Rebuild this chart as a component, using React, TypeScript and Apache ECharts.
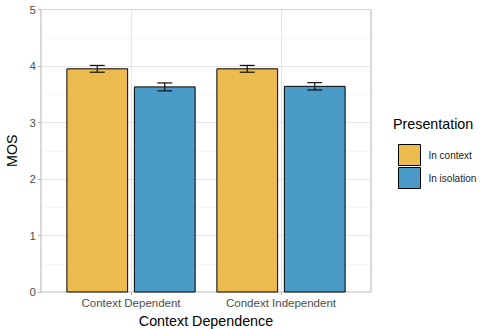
import React, { useEffect, useRef } from "react";
import * as echarts from "echarts";

const categories = ["Context Dependent", "Condext Independent"];
const seriesNames = ["In context", "In isolation"];
const inContext = [3.95, 3.95];
const inContextErr = [0.06, 0.06];
const inIsolation = [3.63, 3.64];
const inIsolationErr = [0.07, 0.065];
const yTicks = [0, 1, 2, 3, 4, 5];
const colors = ["#EBBB4E", "#4A9BC8"];

const FONT = "Liberation Sans, Arial, sans-serif";

export default function App() {
  const ref = useRef<HTMLDivElement>(null);
  useEffect(() => {
    const chart = echarts.init(ref.current!, null, { renderer: "svg" });
    const positions = categories.map((_, i) => i + 1);
    const barW = 0.405;
    const dodge = 0.225;
    const capHalf = 0.05;
    const makeSeries = (si: number, vals: number[], errs: number[]) => ({
      type: "custom",
      name: seriesNames[si],
      itemStyle: { color: colors[si], borderColor: "#000", borderWidth: 1 },
      data: positions.map((p, i) => [p, vals[i], errs[i]]),
      encode: { x: 0, y: 1 },
      renderItem: (params: any, api: any) => {
        const x = api.value(0) + (si === 0 ? -dodge : dodge);
        const v = api.value(1);
        const e = api.value(2);
        const p0 = api.coord([x - barW / 2, v]);
        const p1 = api.coord([x + barW / 2, 0]);
        const t = api.coord([x, v + e]);
        const b = api.coord([x, v - e]);
        const cl = api.coord([x - capHalf, v])[0];
        const cr = api.coord([x + capHalf, v])[0];
        const ls = { stroke: "#111", lineWidth: 1.2 };
        return {
          type: "group",
          children: [
            {
              type: "rect",
              shape: { x: p0[0], y: p0[1], width: p1[0] - p0[0], height: p1[1] - p0[1] },
              style: { fill: colors[si], stroke: "#000", lineWidth: 1 },
            },
            { type: "line", shape: { x1: t[0], y1: t[1], x2: b[0], y2: b[1] }, style: ls },
            { type: "line", shape: { x1: cl, y1: t[1], x2: cr, y2: t[1] }, style: ls },
            { type: "line", shape: { x1: cl, y1: b[1], x2: cr, y2: b[1] }, style: ls },
          ],
        };
      },
    });
    chart.setOption({
      animation: false,
      textStyle: { fontFamily: FONT },
      grid: {
        left: 41,
        right: 110,
        top: 9.5,
        bottom: 37,
        containLabel: false,
        outerBoundsMode: "none",
        show: true,
        borderColor: "#b3b3b3",
        borderWidth: 1,
        backgroundColor: "#fff",
      },
      xAxis: {
        type: "value",
        min: 0.4,
        max: 2.6,
        name: "Context Dependence",
        nameLocation: "middle",
        nameGap: 20,
        nameTextStyle: { fontSize: 14.3, color: "#000", fontFamily: FONT },
        axisLine: { show: false },
        axisTick: { show: true, length: 3, lineStyle: { color: "#b3b3b3" }, customValues: positions },
        axisLabel: {
          customValues: positions,
          formatter: (v: number) => categories[Math.round(v) - 1] ?? "",
          fontSize: 11.5,
          color: "#4d4d4d",
          margin: 5,
          fontFamily: FONT,
        },
        splitLine: { show: true, lineStyle: { color: "#e0e0e0", width: 0.8 } },
      },
      yAxis: {
        type: "value",
        min: yTicks[0],
        max: yTicks[yTicks.length - 1],
        interval: 1,
        name: "MOS",
        nameLocation: "middle",
        nameGap: 20,
        nameRotate: 90,
        nameTextStyle: { fontSize: 14.3, color: "#000", fontFamily: FONT },
        axisLine: { show: false },
        axisTick: { show: true, length: 3, lineStyle: { color: "#b3b3b3" } },
        axisLabel: { fontSize: 11.5, color: "#4d4d4d", margin: 5, fontFamily: FONT },
        splitLine: { show: true, lineStyle: { color: "#e0e0e0", width: 0.8 } },
        minorTick: { show: false, splitNumber: 2 },
        minorSplitLine: { show: true, lineStyle: { color: "#ececec", width: 0.5 } },
      },
      legend: {
        orient: "vertical",
        left: 393,
        top: 139,
        itemWidth: 22,
        itemHeight: 21,
        itemGap: 1,
        icon: "rect",
        data: seriesNames,
        itemStyle: { borderColor: "#000", borderWidth: 1 },
        textStyle: { fontSize: 10, color: "#1a1a1a", fontFamily: FONT, padding: [0, 0, 0, 3] },
      },
      graphic: [
        {
          type: "text",
          left: 393,
          top: 117,
          style: { text: "Presentation", fontSize: 14.3, fill: "#000", fontFamily: FONT },
        },
      ],
      series: [makeSeries(0, inContext, inContextErr), makeSeries(1, inIsolation, inIsolationErr)],
    });
    return () => chart.dispose();
  }, []);
  return <div ref={ref} style={{ width: 481, height: 329, position: "absolute", left: 0, top: 0 }} />;
}
